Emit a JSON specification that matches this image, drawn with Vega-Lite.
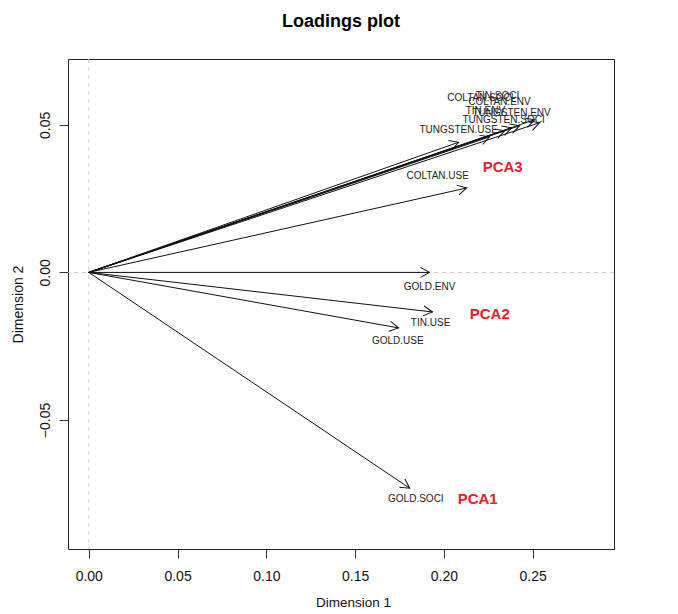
{
  "$schema": "https://vega.github.io/schema/vega-lite/v6.json",
  "width": 546,
  "height": 490,
  "autosize": {"type": "none"},
  "padding": {"left": 68, "top": 59, "right": 64, "bottom": 65},
  "background": "white",
  "title": {"text": "Loadings plot", "font": "Liberation Sans", "fontSize": 18, "fontWeight": "bold", "anchor": "middle", "offset": 28, "color": "black"},
  "config": {
    "view": {"stroke": "#222222", "strokeWidth": 1},
    "axis": {"domain": false, "grid": false, "tickColor": "#333333", "tickSize": 9, "labelFont": "Liberation Sans", "labelFontSize": 14, "labelColor": "#111111", "titleFont": "Liberation Sans", "titleFontSize": 14, "titleFontWeight": "normal", "titleColor": "#111111"},
    "axisX": {"labelPadding": 11, "titlePadding": 12, "titleX": 285, "titleFontSize": 13.5},
    "axisY": {"labelAngle": -90, "labelAlign": "center", "labelBaseline": "bottom", "labelPadding": 7, "titlePadding": 13},
    "text": {"font": "Liberation Sans"}
  },
  "datasets": {
    "loadings": [
      {"var": "GOLD.USE", "x": 0.1745, "y": -0.0188, "lx": 0.1740, "ly": -0.0232},
      {"var": "GOLD.ENV", "x": 0.1919, "y": 0.0000, "lx": 0.1919, "ly": -0.0049},
      {"var": "GOLD.SOCI", "x": 0.1807, "y": -0.0731, "lx": 0.1842, "ly": -0.0768},
      {"var": "TIN.USE", "x": 0.1936, "y": -0.0134, "lx": 0.1925, "ly": -0.0171},
      {"var": "TIN.ENV", "x": 0.2342, "y": 0.0480, "lx": 0.2234, "ly": 0.0547},
      {"var": "TIN.SOCI", "x": 0.2381, "y": 0.0490, "lx": 0.2302, "ly": 0.0598},
      {"var": "COLTAN.USE", "x": 0.2128, "y": 0.0286, "lx": 0.1965, "ly": 0.0327},
      {"var": "COLTAN.ENV", "x": 0.2426, "y": 0.0497, "lx": 0.2313, "ly": 0.0578},
      {"var": "COLTAN.SOCI", "x": 0.2257, "y": 0.0459, "lx": 0.2206, "ly": 0.0592},
      {"var": "TUNGSTEN.USE", "x": 0.2083, "y": 0.0441, "lx": 0.2083, "ly": 0.0483},
      {"var": "TUNGSTEN.ENV", "x": 0.2510, "y": 0.0517, "lx": 0.2381, "ly": 0.0541},
      {"var": "TUNGSTEN.SOCI", "x": 0.2538, "y": 0.0507, "lx": 0.2336, "ly": 0.0517}
    ],
    "pca": [
      {"label": "PCA3", "x": 0.2331, "y": 0.0358},
      {"label": "PCA2", "x": 0.2258, "y": -0.0141},
      {"label": "PCA1", "x": 0.2190, "y": -0.0766}
    ],
    "zero": [{"v": 0}]
  },
  "layer": [
    {
      "data": {"name": "zero"},
      "mark": {"type": "rule", "color": "#cccccc", "strokeDash": [4, 4], "strokeWidth": 1},
      "encoding": {
        "x": {"field": "v", "type": "quantitative", "scale": {"domain": [-0.0117, 0.2958], "nice": false, "zero": false}, "axis": {"values": [0, 0.05, 0.1, 0.15, 0.2, 0.25], "format": ".2f", "title": "Dimension 1"}}
      }
    },
    {
      "data": {"name": "zero"},
      "mark": {"type": "rule", "color": "#cccccc", "strokeDash": [4, 4], "strokeWidth": 1},
      "encoding": {
        "y": {"field": "v", "type": "quantitative", "scale": {"domain": [-0.0937, 0.0723], "nice": false, "zero": false}, "axis": {"values": [-0.05, 0, 0.05], "format": ".2f", "title": "Dimension 2"}}
      }
    },
    {
      "data": {"name": "loadings"},
      "mark": {"type": "rule", "color": "#111111", "strokeWidth": 1},
      "encoding": {
        "x": {"field": "x", "type": "quantitative", "scale": {"domain": [-0.0117, 0.2958], "nice": false, "zero": false}, "axis": {"values": [0, 0.05, 0.1, 0.15, 0.2, 0.25], "format": ".2f", "title": "Dimension 1"}},
        "y": {"field": "y", "type": "quantitative", "scale": {"domain": [-0.0937, 0.0723], "nice": false, "zero": false}, "axis": {"values": [-0.05, 0, 0.05], "format": ".2f", "title": "Dimension 2"}},
        "x2": {"datum": 0},
        "y2": {"datum": 0}
      }
    },
    {
      "data": {"name": "loadings"},
      "transform": [{"calculate": "(atan2(-datum.y * 2952, datum.x * 1776) * 180 / PI + 360) % 360", "as": "ang"}],
      "mark": {"type": "point", "shape": "M-1,-0.55L0,0L-1,0.55", "filled": false, "stroke": "#111111", "strokeWidth": 1, "size": 324, "opacity": 1},
      "encoding": {
        "x": {"field": "x", "type": "quantitative", "scale": {"domain": [-0.0117, 0.2958], "nice": false, "zero": false}, "axis": {"values": [0, 0.05, 0.1, 0.15, 0.2, 0.25], "format": ".2f", "title": "Dimension 1"}},
        "y": {"field": "y", "type": "quantitative", "scale": {"domain": [-0.0937, 0.0723], "nice": false, "zero": false}, "axis": {"values": [-0.05, 0, 0.05], "format": ".2f", "title": "Dimension 2"}},
        "angle": {"field": "ang", "type": "quantitative", "scale": null}
      }
    },
    {
      "data": {"name": "loadings"},
      "mark": {"type": "text", "fontSize": 10, "color": "#222222", "align": "center", "baseline": "middle"},
      "encoding": {
        "x": {"field": "lx", "type": "quantitative", "scale": {"domain": [-0.0117, 0.2958], "nice": false, "zero": false}, "axis": {"values": [0, 0.05, 0.1, 0.15, 0.2, 0.25], "format": ".2f", "title": "Dimension 1"}},
        "y": {"field": "ly", "type": "quantitative", "scale": {"domain": [-0.0937, 0.0723], "nice": false, "zero": false}, "axis": {"values": [-0.05, 0, 0.05], "format": ".2f", "title": "Dimension 2"}},
        "text": {"field": "var"}
      }
    },
    {
      "data": {"name": "pca"},
      "mark": {"type": "text", "fontSize": 15, "fontWeight": "bold", "color": "#e8202a", "align": "center", "baseline": "middle"},
      "encoding": {
        "x": {"field": "x", "type": "quantitative", "scale": {"domain": [-0.0117, 0.2958], "nice": false, "zero": false}, "axis": {"values": [0, 0.05, 0.1, 0.15, 0.2, 0.25], "format": ".2f", "title": "Dimension 1"}},
        "y": {"field": "y", "type": "quantitative", "scale": {"domain": [-0.0937, 0.0723], "nice": false, "zero": false}, "axis": {"values": [-0.05, 0, 0.05], "format": ".2f", "title": "Dimension 2"}},
        "text": {"field": "label"}
      }
    }
  ]
}
